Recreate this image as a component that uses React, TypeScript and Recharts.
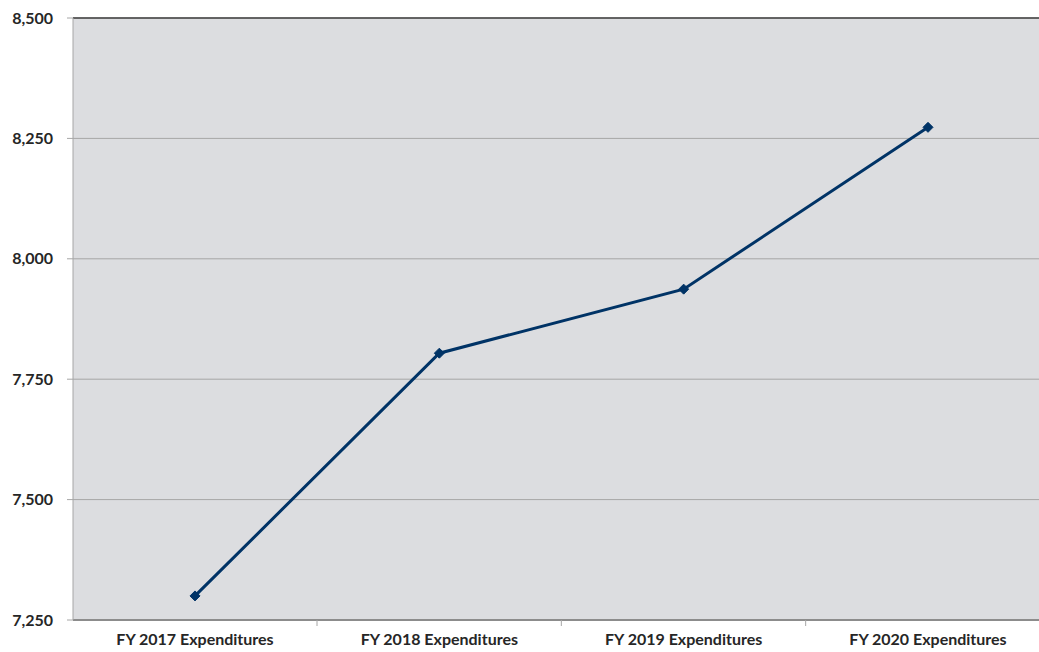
import { LineChart, Line, XAxis, YAxis, CartesianGrid, ReferenceLine } from 'recharts'

const categories = ['FY 2017 Expenditures', 'FY 2018 Expenditures', 'FY 2019 Expenditures', 'FY 2020 Expenditures']
const expenditures = [7300, 7804, 7937, 8273]
const yTicks = [7250, 7500, 7750, 8000, 8250, 8500]

const data = categories.map((name, i) => ({ name, value: expenditures[i] }))

const fmt = (v: number) => v.toLocaleString('en-US')
const font = "Lato, 'Open Sans', sans-serif"

// diamond marker like the spreadsheet chart
function Diamond(props: any) {
    const { cx, cy } = props
    if (cx == null || cy == null) return null
    const r = 5
    return (
        <path
            d={`M${cx},${cy - r} L${cx + r},${cy} L${cx},${cy + r} L${cx - r},${cy} Z`}
            fill="#003366"
            stroke="#003366"
        />
    )
}

// label under the category plus a small divider tick between categories
function CategoryTick(props: any) {
    const { x, y, payload } = props
    const half = payload.offset || 122
    return (
        <g>
            <line x1={x + half} y1={y - 8} x2={x + half} y2={y - 2} stroke="#a6a6a6" />
            <text x={x} y={y + 17} textAnchor="middle" fill="#262626" fontSize={16} fontWeight="bold" fontFamily={font}>
                {payload.value}
            </text>
        </g>
    )
}

export default function App() {
    return (
        <div style={{ position: 'fixed', top: 0, left: 0, width: 1039, height: 652, overflow: 'hidden', background: '#fff' }}>
            <LineChart width={1050} height={652} data={data} margin={{ top: 18, right: 0, bottom: 0, left: 0 }}>
                <CartesianGrid vertical={false} stroke="#a6a6a6" fill="#dcdde0" fillOpacity={1} />
                <XAxis
                    dataKey="name"
                    height={32}
                    padding={{ left: 122, right: 122 }}
                    axisLine={{ stroke: '#8c8c8c', strokeWidth: 2 }}
                    tickLine={false}
                    tick={<CategoryTick />}
                    interval={0}
                />
                <YAxis
                    width={73}
                    domain={[7250, 8500]}
                    ticks={yTicks}
                    tickFormatter={fmt}
                    axisLine={{ stroke: '#a6a6a6' }}
                    tickLine={{ stroke: '#a6a6a6' }}
                    tickSize={6}
                    tick={{ fill: '#262626', fontSize: 16, fontWeight: 'bold', fontFamily: font }}
                    tickMargin={14}
                />
                <ReferenceLine y={8500} stroke="#404040" strokeWidth={1.5} />
                <Line
                    type="linear"
                    dataKey="value"
                    stroke="#003366"
                    strokeWidth={3}
                    dot={<Diamond />}
                    activeDot={false}
                    isAnimationActive={false}
                />
            </LineChart>
        </div>
    )
}
